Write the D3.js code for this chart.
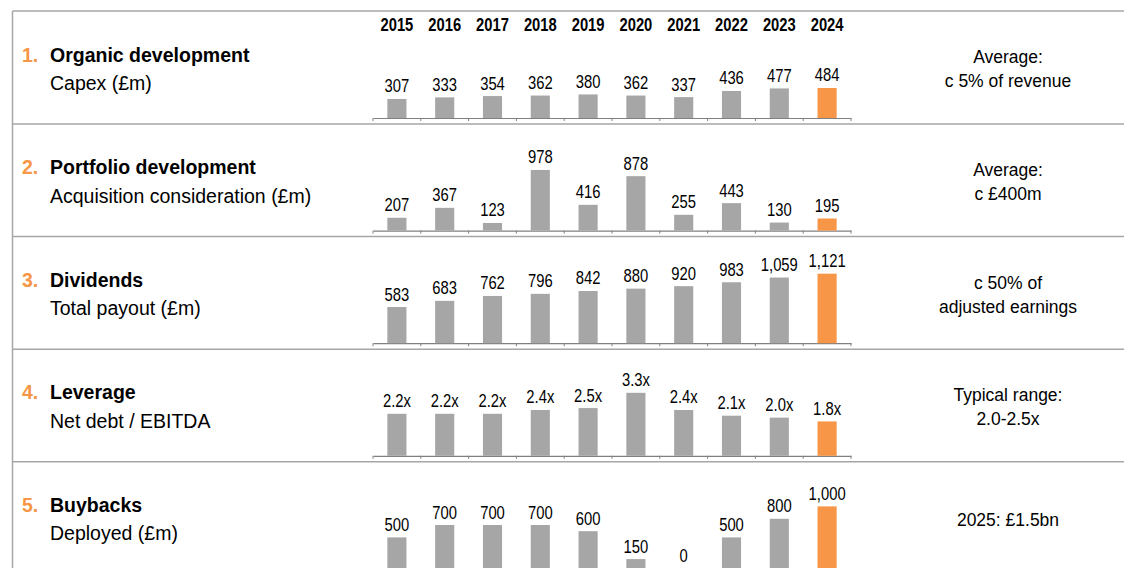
<!DOCTYPE html>
<html>
<head>
<meta charset="utf-8">
<script src="https://cdn.jsdelivr.net/npm/d3@7"></script>
<style>
  body { margin: 0; background: #fff; }
  svg text { font-family: 'Liberation Sans', Arial, sans-serif; fill: #000; }
</style>
</head>
<body>
<svg id="chart"></svg>
<script>
// Chart data
var years = [2015, 2016, 2017, 2018, 2019, 2020, 2021, 2022, 2023, 2024];
var capex = [307, 333, 354, 362, 380, 362, 337, 436, 477, 484];
var acquisitions = [207, 367, 123, 978, 416, 878, 255, 443, 130, 195];
var dividends = [583, 683, 762, 796, 842, 880, 920, 983, 1059, 1121];
var leverage = [2.2, 2.2, 2.2, 2.4, 2.5, 3.3, 2.4, 2.1, 2.0, 1.8];
var buybacks = [500, 700, 700, 700, 600, 150, 0, 500, 800, 1000];

var rowNumbers = ['1.', '2.', '3.', '4.', '5.'];
var rowTitles = ['Organic development', 'Portfolio development', 'Dividends', 'Leverage', 'Buybacks'];
var rowSubtitles = ['Capex (£m)', 'Acquisition consideration (£m)', 'Total payout (£m)', 'Net debt / EBITDA', 'Deployed (£m)'];
var rowNotes = [
  ['Average:', 'c 5% of revenue'],
  ['Average:', 'c £400m'],
  ['c 50% of', 'adjusted earnings'],
  ['Typical range:', '2.0-2.5x'],
  ['2025: £1.5bn']
];

var width = 1124;
var height = 568;
var rowPitch = 112.6;
var firstBaseline = 118;
var grey = '#a6a6a6';
var orange = '#f79646';
// numbers in the source are set in a condensed face
var squeeze = 0.8;

var svg = d3.select('#chart')
  .attr('width', width)
  .attr('height', height);

var x = d3.scaleBand()
  .domain(years)
  .range([373, 851])
  .paddingInner(0.6)
  .paddingOuter(0.3);

// Bar heights in pixels
var moneyScale = d3.scaleLinear()
  .domain([0, 1000])
  .range([0, 62]);

var leverageScale = d3.scaleLinear()
  .domain([0, 3.3])
  .range([0, 63]);

var moneyFormat = d3.format(',');
var leverageFormat = function(v) { return d3.format('.1f')(v) + 'x'; };

var rows = [
  { values: capex, scale: moneyScale, format: moneyFormat },
  { values: acquisitions, scale: moneyScale, format: moneyFormat },
  { values: dividends, scale: moneyScale, format: moneyFormat },
  { values: leverage, scale: leverageScale, format: leverageFormat },
  { values: buybacks, scale: moneyScale, format: moneyFormat }
];

// Frame lines
svg.append('line')
  .attr('x1', 12.5)
  .attr('x2', 12.5)
  .attr('y1', 11)
  .attr('y2', height)
  .attr('stroke', grey)
  .attr('stroke-width', 1.5);

svg.append('line')
  .attr('x1', 12.5)
  .attr('x2', width)
  .attr('y1', 11)
  .attr('y2', 11)
  .attr('stroke', grey)
  .attr('stroke-width', 1.5);

// Year header
svg.append('g')
  .selectAll('text')
  .data(years)
  .enter()
  .append('text')
  .attr('transform', function(d) {
    return 'translate(' + (x(d) + x.bandwidth() / 2) + ',30.5) scale(' + (squeeze + 0.02) + ',1)';
  })
  .attr('text-anchor', 'middle')
  .style('font-size', '18px')
  .style('font-weight', 'bold')
  .text(function(d) { return d; });

rows.forEach(function(row, i) {
  var baseline = firstBaseline + i * rowPitch;
  var g = svg.append('g')
    .attr('transform', 'translate(0,' + baseline + ')');

  // Separator below the row
  if (i < rows.length - 1) {
    g.append('line')
      .attr('x1', 12.5)
      .attr('x2', width)
      .attr('y1', 6)
      .attr('y2', 6)
      .attr('stroke', grey)
      .attr('stroke-width', 1.5);
  }

  // Row labels
  var label = g.append('text')
    .attr('x', 22)
    .attr('y', -56.5)
    .style('font-size', '19.5px')
    .style('font-weight', 'bold');
  label.append('tspan')
    .attr('fill', orange)
    .text(rowNumbers[i]);
  label.append('tspan')
    .attr('x', 50)
    .text(rowTitles[i]);

  g.append('text')
    .attr('x', 50)
    .attr('y', -28)
    .style('font-size', '19.5px')
    .text(rowSubtitles[i]);

  // Right hand notes
  var notes = rowNotes[i];
  var noteStart = notes.length === 1 ? -42.5 : -54.7;
  g.append('g')
    .selectAll('text')
    .data(notes)
    .enter()
    .append('text')
    .attr('x', 1008)
    .attr('y', function(d, j) { return noteStart + j * 24; })
    .attr('text-anchor', 'middle')
    .style('font-size', '17.5px')
    .text(function(d) { return d; });

  // Axis along the baseline
  var axis = d3.axisBottom(x)
    .tickSize(0)
    .tickFormat('');
  var axisG = g.append('g')
    .attr('class', 'x-axis')
    .call(axis);
  axisG.select('.domain')
    .attr('stroke', '#808080')
    .attr('stroke-width', 1.2);

  var edges = x.domain().map(function(d) { return x(d) - x.step() * x.paddingInner() / 2; });
  edges.push(x.range()[1]);
  axisG.selectAll('.edge-tick')
    .data(edges)
    .enter()
    .append('line')
    .attr('class', 'edge-tick')
    .attr('x1', function(d) { return d; })
    .attr('x2', function(d) { return d; })
    .attr('y1', 0)
    .attr('y2', 3)
    .attr('stroke', '#808080');

  // Bars
  var bars = g.append('g')
    .selectAll('.bar')
    .data(row.values)
    .enter()
    .append('g')
    .attr('class', 'bar')
    .attr('transform', function(d, j) { return 'translate(' + x(years[j]) + ',0)'; });

  bars.append('rect')
    .attr('x', 0)
    .attr('y', function(d) { return -row.scale(d); })
    .attr('width', x.bandwidth())
    .attr('height', function(d) { return row.scale(d); })
    .attr('fill', function(d, j) { return j === years.length - 1 ? orange : grey; });

  bars.append('text')
    .attr('transform', function(d) {
      return 'translate(' + (x.bandwidth() / 2) + ',' + (-row.scale(d) - 6.5) + ') scale(' + squeeze + ',1)';
    })
    .attr('text-anchor', 'middle')
    .style('font-size', '18.5px')
    .text(function(d) { return row.format(d); });
});
</script>
</body>
</html>
